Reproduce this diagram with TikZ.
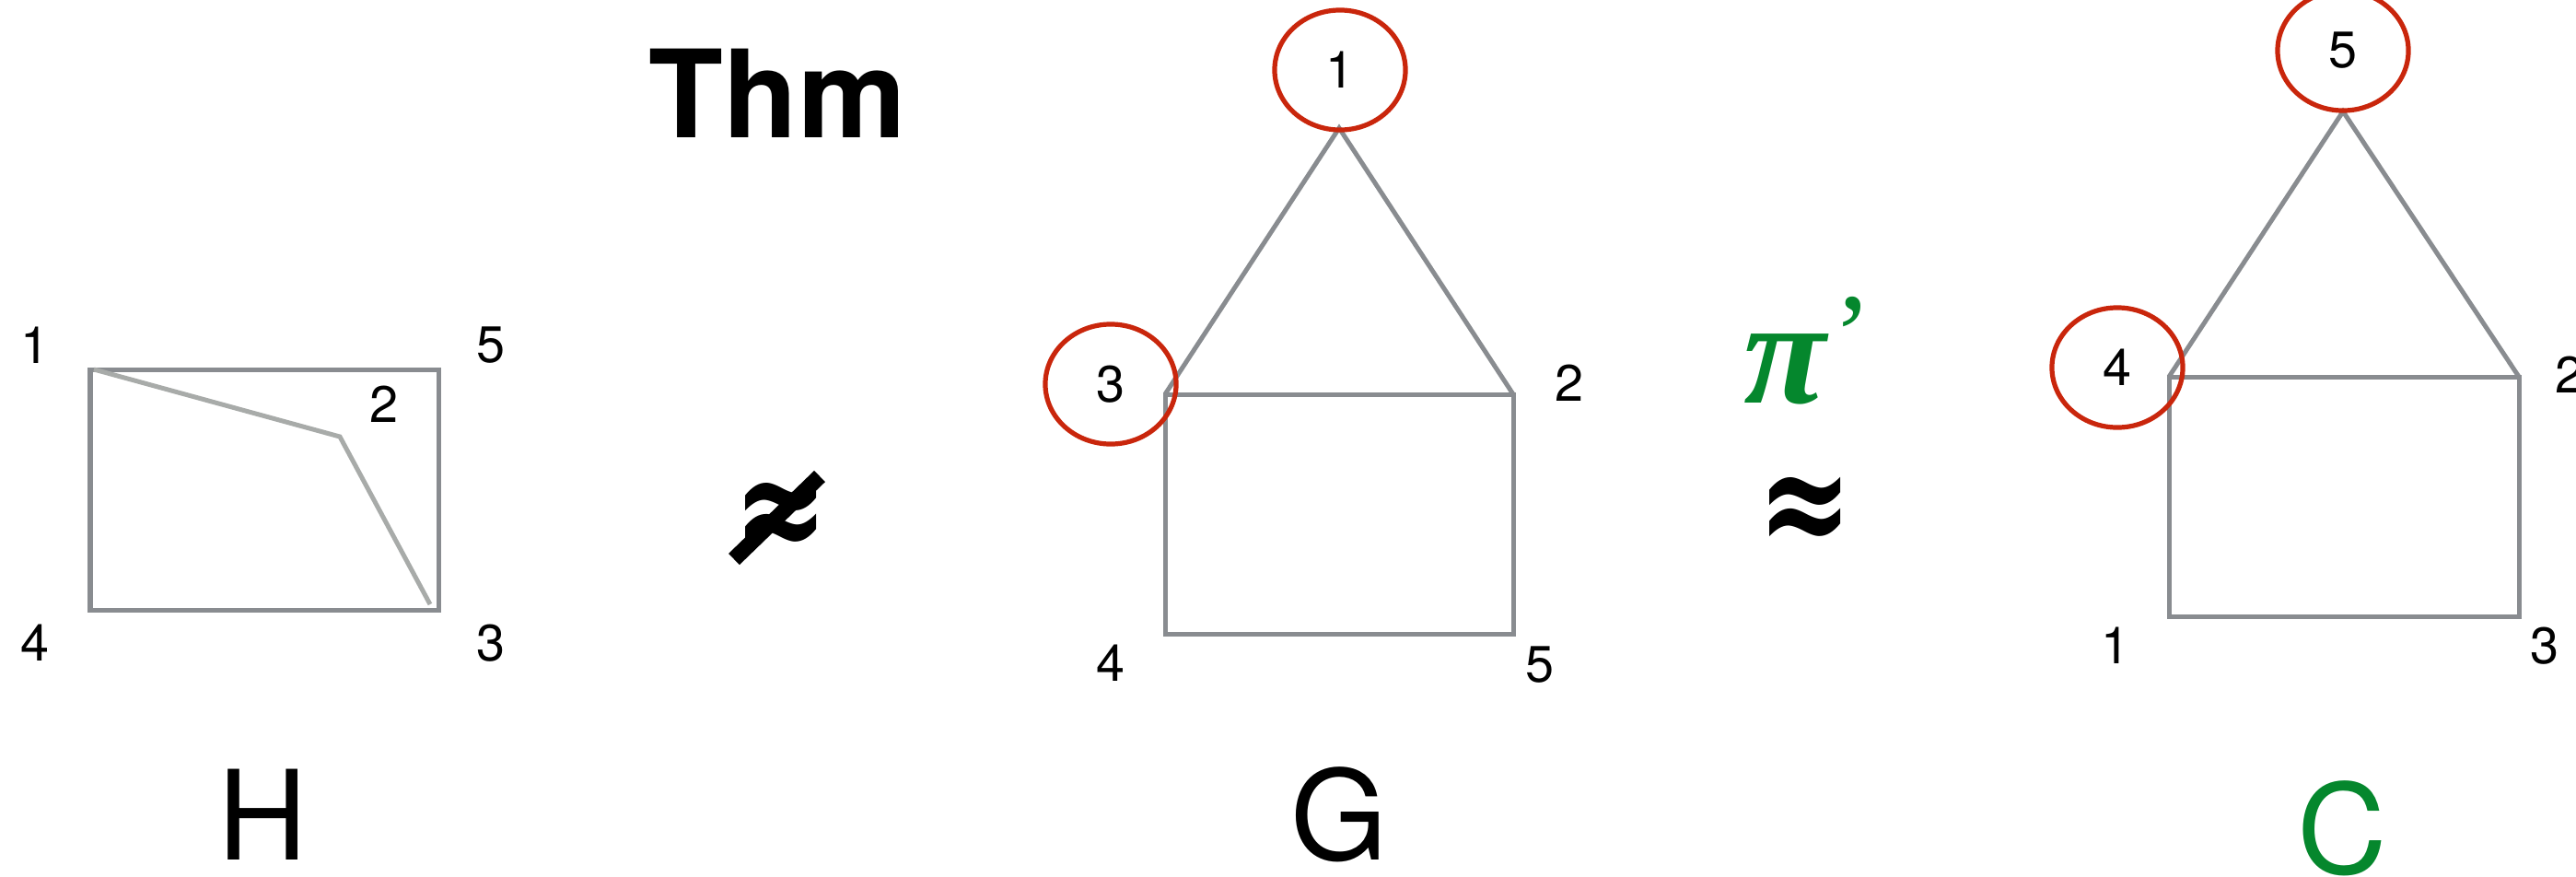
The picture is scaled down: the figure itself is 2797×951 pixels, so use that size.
\documentclass[tikz,border=0pt]{standalone}
\usepackage{fontspec}
\usepackage{graphicx}
\setmainfont{TeX Gyre Heros}
\newfontfamily\tserif{Liberation Serif}
\newfontfamily\dvserif{DejaVu Serif}
\usetikzlibrary{shapes.geometric}
\definecolor{edgegray}{HTML}{898C90}
\definecolor{lightedge}{HTML}{A8ABA9}
\definecolor{ringred}{HTML}{C9260C}
\definecolor{thmgreen}{HTML}{05872D}
\tikzset{
  edge/.style={draw=edgegray, line width=0.05cm},
  lightline/.style={draw=lightedge, line width=0.05cm},
  vlabel/.style={inner sep=0pt, font=\fontsize{15.85}{18}\selectfont},
  ring/.style={ellipse, draw=ringred, line width=0.052cm, inner sep=0pt,
    minimum width=1.42cm, minimum height=1.30cm, font=\fontsize{15.85}{18}\selectfont},
  gname/.style={inner sep=0pt, font=\fontsize{38.4}{44}\selectfont},
  relsym/.style={inner sep=0pt, font=\dvserif\bfseries\fontsize{35}{40}\selectfont}
}
\begin{document}
\begin{tikzpicture}[x=0.01cm,y=-0.01cm]
\useasboundingbox (0,0) rectangle (2797,951);

% ---------- H ----------
\coordinate (h1) at (98,401);
\coordinate (h5) at (476,401);
\coordinate (h3) at (476,662);
\coordinate (h4) at (98,662);
\coordinate (h1d) at (102,401);
\coordinate (h2) at (369,474);
\coordinate (h3d) at (467,656);
\draw[edge] (h1) -- (h5) -- (h3) -- (h4) -- cycle;
\draw[lightline] (h1d) -- (h2) -- (h3d);
\node[vlabel] (lh1) at (38,375) {1};
\node[vlabel] (lh5) at (533,375) {5};
\node[vlabel] (lh2) at (417,439) {2};
\node[vlabel] (lh4) at (38,698) {4};
\node[vlabel] (lh3) at (533,698) {3};
\node[gname] (nameH) at (285,884) {H};

% ---------- Thm ----------
\node[inner sep=0pt, font=\bfseries\fontsize{37.6}{42}\selectfont] (thm) at (844,101) {Thm};

% ---------- not approx ----------
\node[relsym] (napprox) at (848,566) {\scalebox{1}[1.35]{≈}};
\coordinate (s1) at (797,607);
\coordinate (s2) at (890,517);
\draw[line width=0.17cm] (s1) -- (s2);

% ---------- G ----------
\coordinate (g1) at (1454,139);
\coordinate (g3) at (1265,428);
\coordinate (g2) at (1643,428);
\coordinate (g4) at (1265,688);
\coordinate (g5) at (1643,688);
\draw[edge] (g3) -- (g2) -- (g5) -- (g4) -- cycle;
\draw[edge] (g3) -- (g1) -- (g2);
\node[ring] (rg1) at (1455,76) {1};
\node[ring] (rg3) at (1206,417) {3};
\node[vlabel] (lg2) at (1704,416) {2};
\node[vlabel] (lg4) at (1206,720) {4};
\node[vlabel] (lg5) at (1672,722) {5};
\node[gname] (nameG) at (1454,884) {G};

% ---------- pi' and approx ----------
\node[inner sep=0pt, anchor=base west, text=thmgreen,
  font=\tserif\bfseries\itshape\fontsize{46.4}{50}\selectfont] (pi) at (1893,437)
  {π\kern0.05em\raisebox{0.3cm}{\mdseries\upshape\fontsize{36}{40}\selectfont ’}};
\node[relsym] (approx) at (1960,560) {\scalebox{1}[1.35]{≈}};

% ---------- C ----------
\coordinate (c5) at (2544,121);
\coordinate (c4) at (2355,409);
\coordinate (c2) at (2735,409);
\coordinate (c1) at (2355,669);
\coordinate (c3) at (2735,669);
\draw[edge] (c4) -- (c2) -- (c3) -- (c1) -- cycle;
\draw[edge] (c4) -- (c5) -- (c2);
\node[ring] (rc5) at (2544,55) {5};
\node[ring] (rc4) at (2299,399) {4};
\node[vlabel] (lc2) at (2790,407) {2};
\node[vlabel] (lc1) at (2297,701) {1};
\node[vlabel] (lc3) at (2763,701) {3};
\node[gname, text=thmgreen] (nameC) at (2543,899) {C};
\end{tikzpicture}
\end{document}
